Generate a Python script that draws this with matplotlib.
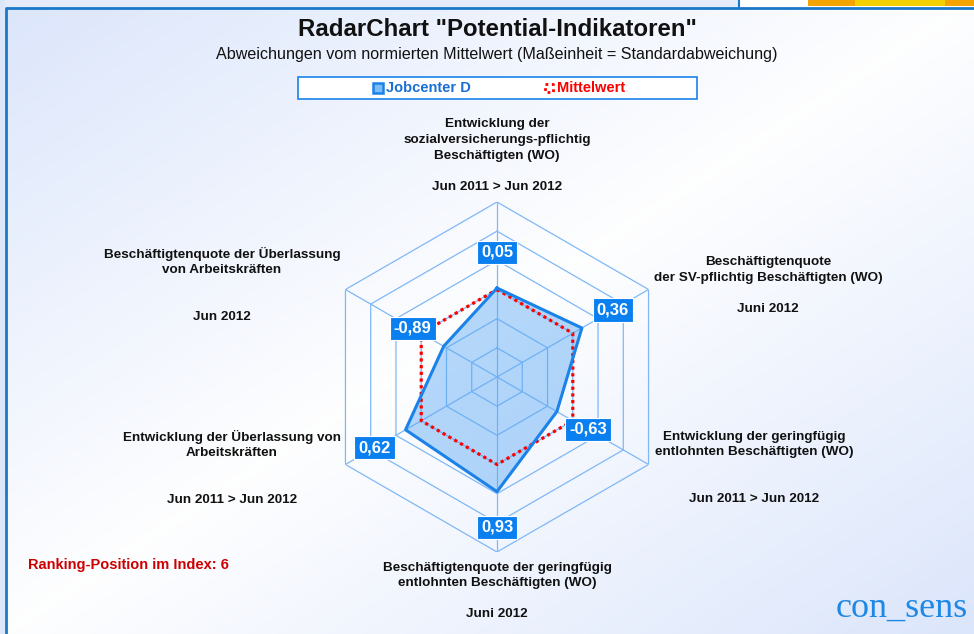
import numpy as np
import matplotlib
matplotlib.use("Agg")
import matplotlib.pyplot as plt
from matplotlib.patches import Rectangle

plt.rcParams['font.family'] = ['Liberation Sans', 'DejaVu Sans']

# ---------------- data ----------------
categories = [
    "Entwicklung der\nsozialversicherungs-pflichtig\nBeschäftigten (WO)",
    "Beschäftigtenquote\nder SV-pflichtig Beschäftigten (WO)",
    "Entwicklung der geringfügig\nentlohnten Beschäftigten (WO)",
    "Beschäftigtenquote der geringfügig\nentlohnten Beschäftigten (WO)",
    "Entwicklung der Überlassung von\nArbeitskräften",
    "Beschäftigtenquote der Überlassung\nvon Arbeitskräften",
]
periods = ["Jun 2011 > Jun 2012", "Juni 2012", "Jun 2011 > Jun 2012",
           "Juni 2012", "Jun 2011 > Jun 2012", "Jun 2012"]
jobcenter = [0.05, 0.36, -0.63, 0.93, 0.62, -0.89]
mittelwert = [0.0, 0.0, 0.0, 0.0, 0.0, 0.0]
value_labels = ["0,05", "0,36", "-0,63", "0,93", "0,62", "-0,89"]
series_names = ["Jobcenter D", "Mittelwert"]
ranking_position = 6
rings = [-2, -1, 0, 1, 2, 3]

# ---------------- layout ----------------
W, H = 974, 634
fig = plt.figure(figsize=(W / 100, H / 100), dpi=100)

bg = fig.add_axes([0, 0, 1, 1])
bg.set_xlim(0, W)
bg.set_ylim(H, 0)
bg.axis('off')

# background gradient (blue at top-left & bottom-right, white along the anti-diagonal)
yy, xx = np.mgrid[0:H, 0:W]
t = np.abs(xx / W + yy / H - 1.0)
blue = np.array([0.86, 0.90, 0.985])
white = np.array([0.995, 0.997, 1.0])
img = white[None, None, :] * (1 - t[..., None]) + blue[None, None, :] * t[..., None]
bg.imshow(img, extent=(0, W, H, 0), aspect='auto', zorder=0)

# outer strip + frame
bg.add_patch(Rectangle((0, 0), W, 7, fc='#e4ecfb', ec='none', zorder=1))
bg.add_patch(Rectangle((0, 0), 5, H, fc='#dde7fa', ec='none', zorder=1))
bg.add_patch(Rectangle((740, 0), W - 740, 7, fc='white', ec='none', zorder=1))
bg.add_patch(Rectangle((808, 0), W - 808, 6, fc='#f4a400', ec='none', zorder=1))
bg.add_patch(Rectangle((855, 0), 90, 6, fc='#f2d000', ec='none', zorder=1))
bg.plot([739, 739], [0, 7.5], color='#1a78c8', lw=1.5, zorder=2)
bg.plot([5.5, 5.5, W], [H, 7.5, 7.5], color='#1a78c8', lw=2.0, zorder=2)

# titles
bg.text(497, 29, 'RadarChart "Potential-Indikatoren"', ha='center', va='center',
        fontsize=17.3, fontweight='bold', color='#111111', zorder=5)
bg.text(497, 54, 'Abweichungen vom normierten Mittelwert (Maßeinheit = Standardabweichung)',
        ha='center', va='center', fontsize=11.6, color='#111111', zorder=5)

# legend
bg.add_patch(Rectangle((298, 77), 399, 22, fc='white', ec='#1a82e8', lw=1.2, zorder=3))
bg.plot([378], [88], marker='s', ms=7, mfc='#7cbcf7', mec='#1a82e8', mew=1.8, zorder=4)
bg.text(386, 88.5, series_names[0], ha='left', va='center', fontsize=10.5,
        fontweight='bold', color='#1a6fd6', zorder=4)
bg.plot([545, 553, 553, 545, 545], [84, 84, 92, 92, 84], color='#ff0000', lw=2.0,
        linestyle=(0, (1, 1.3)), zorder=4)
bg.text(557, 88.5, series_names[1], ha='left', va='center', fontsize=10.5,
        fontweight='bold', color='#ff0000', zorder=4)

# category labels
label_pos = [(497, 155.5), (768, 285.5), (754, 468), (497, 591), (232, 468), (222, 285)]
gaps = ["\n\n", "\n\n", "\n\n\n", "\n\n", "\n\n\n", "\n\n\n"]
for (x, y), cat, per, gap in zip(label_pos, categories, periods, gaps):
    bg.text(x, y, cat + gap + per, ha='center', va='center', fontsize=9.7,
            fontweight='bold', linespacing=1.4, color='#111111', zorder=5)

bg.text(28, 565, f"Ranking-Position im Index: {ranking_position}", ha='left', va='center',
        fontsize=10.5, fontweight='bold', color='#cc0000', zorder=5)
bg.text(968, 608, 'con_sens', ha='right', va='center', fontsize=26,
        family=['Liberation Serif', 'DejaVu Serif'], color='#1e88e5', zorder=5)

# ---------------- radar ----------------
cx, cy, R = 497, 377, 175
ax = fig.add_axes([(cx - R) / W, (H - cy - R) / H, 2 * R / W, 2 * R / H], polar=True)
ax.set_facecolor('none')
ax.set_theta_offset(np.pi / 2)
ax.set_theta_direction(-1)
ax.set_ylim(-3, 3)
ax.grid(False)
ax.spines['polar'].set_visible(False)
ax.set_xticks([])
ax.set_yticks([])

n = len(jobcenter)
angles = np.arange(n) * 2 * np.pi / n
ang_c = np.append(angles, angles[0])

grid_color = '#80b8f6'
for r in rings:
    ax.plot(ang_c, [r] * (n + 1), color=grid_color, lw=0.9, zorder=1)
for a in angles:
    ax.plot([a, a], [-3, 3], color=grid_color, lw=0.9, zorder=1)

jc = np.append(jobcenter, jobcenter[0])
mw = np.append(mittelwert, mittelwert[0])
ax.fill(ang_c, jc, color='#5aa8f5', alpha=0.45, lw=0, zorder=2)
ax.plot(ang_c, mw, color='#ff0000', lw=2.3, linestyle=(0, (1, 1.1)), zorder=3)
ax.plot(ang_c, jc, color='#1a82e8', lw=2.2, zorder=4)

for a, v, lab in zip(angles, jobcenter, value_labels):
    ax.text(a, v + 1.23, lab, ha='center', va='center', fontsize=12, fontweight='bold',
            color='white', zorder=6,
            bbox=dict(boxstyle='square,pad=0.25', fc='#0a80f0', ec='white', lw=0.8))

fig.savefig('out.png', dpi=100)
